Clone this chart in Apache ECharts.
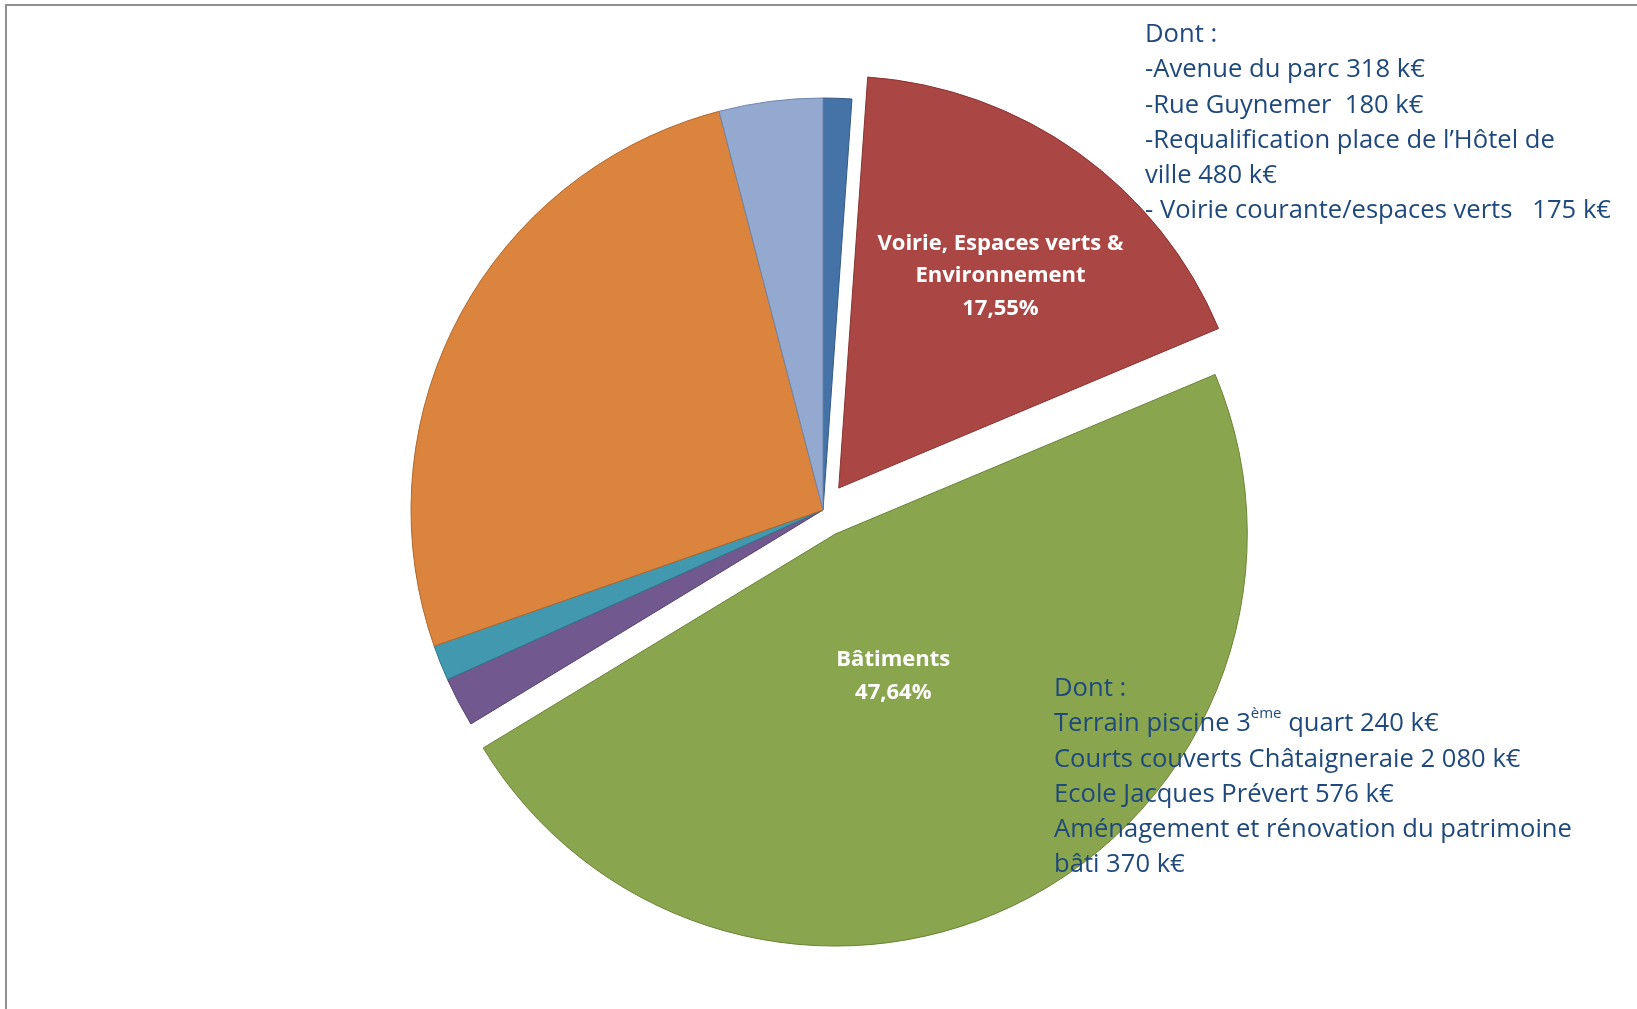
<!DOCTYPE html>
<html>
<head>
<meta charset="utf-8">
<script src="https://cdn.jsdelivr.net/npm/echarts@6/dist/echarts.min.js"></script>
<style>
  html, body { margin: 0; padding: 0; background: #fff; }
  #chart { width: 1637px; height: 1009px; }
</style>
</head>
<body>
<div id="chart"></div>
<script>
// catégories dans l'ordre du camembert (sens horaire depuis midi)
const categories = ["Divers", "Voirie, Espaces verts & Environnement", "Bâtiments", "Poste 4", "Poste 5", "Poste 6", "Poste 7"];
// parts en %
const shares = [1.12, 17.55, 47.64, 1.94, 1.39, 26.30, 4.06];
// libellés affichés dans les parts (vide = pas d'étiquette)
const sliceLabels = ["", "Voirie, Espaces verts &\nEnvironnement", "Bâtiments", "", "", "", ""];
// parts détachées
const exploded = [false, true, true, false, false, false, false];

// détail des postes
const noteVoirie = [
  "Dont :",
  "-Avenue du parc 318 k€",
  "-Rue Guynemer  180 k€",
  "-Requalification place de l’Hôtel de",
  "ville 480 k€",
  "- Voirie courante/espaces verts   175 k€"
];
const noteBatiments = [
  "Dont :",
  "Terrain piscine 3{sup|ème} quart 240 k€",
  "Courts couverts Châtaigneraie 2 080 k€",
  "Ecole Jacques Prévert 576 k€",
  "Aménagement et rénovation du patrimoine",
  "bâti 370 k€"
];

const fills = ["#4572a7", "#aa4643", "#89a54e", "#71588f", "#4198af", "#db843d", "#93a9cf"];
const borders = ["#365a86", "#8a3331", "#6b8439", "#56436f", "#2f7a8d", "#b0672c", "#6f86ad"];

// décalage des étiquettes par rapport à la position "inside"
const labelShift = {
  1: { dx: 40, dy: -42 },
  2: { dx: -37, dy: -44 }
};

const textColor = "#1f497d";
const font = "'Open Sans', 'Noto Sans', sans-serif";

let myChart = echarts.init(document.getElementById("chart"), null, { renderer: "canvas" });

let data = categories.map((name, i) => {
  return {
    name: name,
    value: shares[i],
    selected: exploded[i],
    itemStyle: { color: fills[i], borderColor: borders[i], borderWidth: 1 },
    label: { show: sliceLabels[i] !== "" }
  };
});

let option = {
  backgroundColor: "#fff",
  animation: false,
  graphic: [
    {
      // cadre gris (haut + gauche)
      type: "polyline",
      shape: { points: [[6, 1100], [6, 5], [1700, 5]] },
      style: { stroke: "#8f8f8f", lineWidth: 2, fill: null },
      z: 10
    },
    {
      type: "text",
      left: 1145,
      top: 17,
      style: {
        text: noteVoirie.join("\n"),
        font: "25.6px " + font,
        lineHeight: 35.3,
        fill: textColor
      },
      z: 10
    },
    {
      type: "text",
      left: 1054,
      top: 671,
      style: {
        text: noteBatiments.join("\n"),
        font: "25.6px " + font,
        fontSize: 25.6,
        fontFamily: font,
        lineHeight: 35.3,
        fill: textColor,
        rich: {
          sup: { fontSize: 15, fontFamily: font, fill: textColor, verticalAlign: "top", padding: [0, 0, 15, 0] }
        }
      },
      z: 10
    }
  ],
  series: [
    {
      type: "pie",
      center: [823, 510],
      radius: 412,
      startAngle: 90,
      clockwise: true,
      selectedMode: "multiple",
      selectedOffset: 27,
      avoidLabelOverlap: false,
      emphasis: { disabled: true },
      label: {
        show: true,
        position: "inside",
        color: "#fff",
        fontFamily: font,
        fontWeight: "bold",
        fontSize: 22,
        lineHeight: 32.5,
        align: "center",
        formatter: function (p) {
          let pct = p.percent.toFixed(2).replace(".", ",") + "%";
          return sliceLabels[p.dataIndex] + "\n" + pct;
        }
      },
      labelLine: { show: false },
      labelLayout: function (p) {
        return labelShift[p.dataIndex] || {};
      },
      data: data
    }
  ]
};

myChart.setOption(option);
</script>
</body>
</html>
